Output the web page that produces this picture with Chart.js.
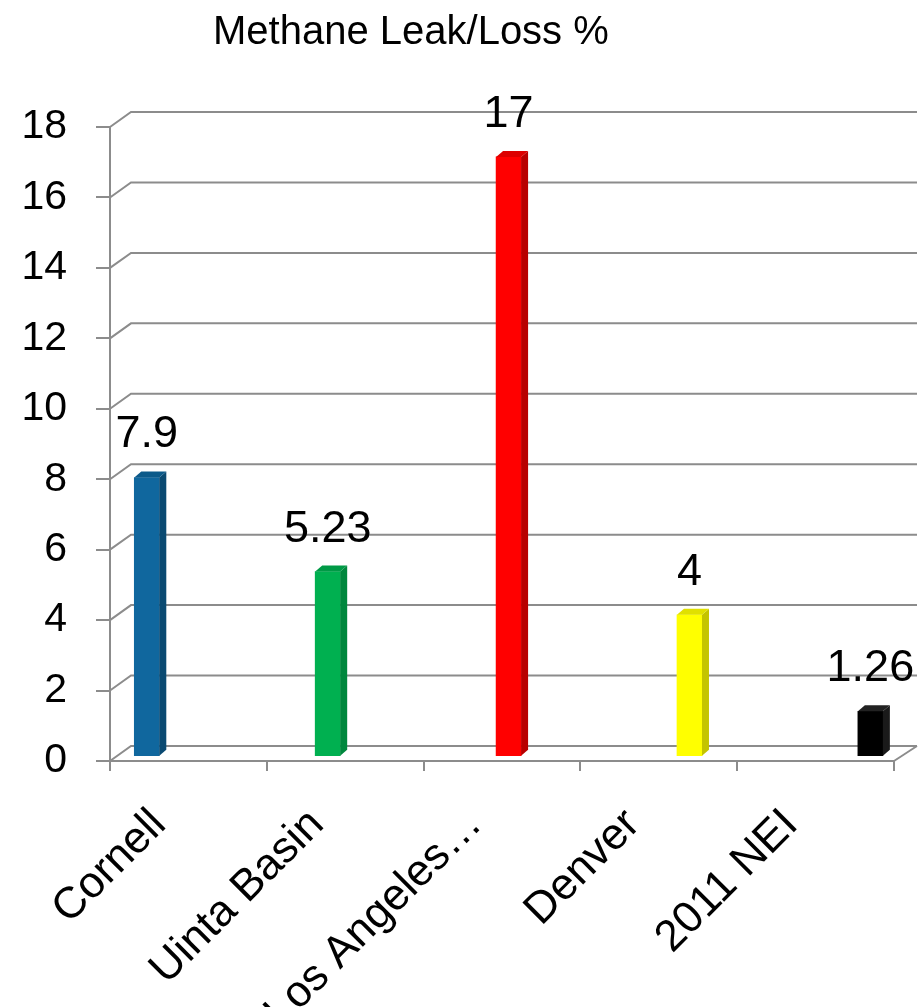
<!DOCTYPE html>
<html>
<head>
<meta charset="utf-8">
<title>Methane Leak/Loss %</title>
<script src="https://cdn.jsdelivr.net/npm/chart.js@4/dist/chart.umd.min.js"></script>
<style>
  body { margin: 0; background: #fff; }
  #wrap { position: relative; width: 921px; height: 1007px; }
  #title {
    position: absolute; left: 213px; top: 10px;
    font: 40px/40px "Liberation Sans", Arial, sans-serif; color: #000;
    white-space: nowrap;
  }
</style>
</head>
<body>
<div id="wrap">
  <div id="title">Methane Leak/Loss %</div>
  <canvas id="leakChart"></canvas>
</div>
<script>
// chart data
const categories = ['Cornell', 'Uinta Basin', 'Los Angeles…', 'Denver', '2011 NEI'];
const leakValues = [7.9, 5.23, 17, 4, 1.26];
const valueLabels = ['7.9', '5.23', '17', '4', '1.26'];
const yTicks = [0, 2, 4, 6, 8, 10, 12, 14, 16, 18];

// bar colours (front face / side face / top)
const frontColors = ['#10679e', '#00b050', '#ff0000', '#ffff00', '#000000'];
const sideColors = ['#0a4a72', '#00873d', '#b80000', '#c4c400', '#1a1a1a'];
const topColors = ['#0c5a8a', '#009a46', '#dd0000', '#e0e000', '#222222'];

const gridColor = '#8c8c8c';
const font = '"Liberation Sans", Arial, sans-serif';
const wall = { dx: 21, dy: 15 };   // back wall offset
const bar3d = { dx: 7, dy: 6 };    // bar depth

const ctx = document.getElementById('leakChart').getContext('2d');

// draws the 3D walls, bar sides and value labels
const chart3d = {
  id: 'chart3d',
  beforeDatasetsDraw(chart) {
    const c = chart.ctx;
    const area = chart.chartArea;
    const y = chart.scales.y;
    c.save();
    c.strokeStyle = gridColor;
    c.lineWidth = 2;
    yTicks.forEach(v => {
      const py = y.getPixelForValue(v);
      c.beginPath();
      c.moveTo(area.left, py);
      c.lineTo(area.left + wall.dx, py - wall.dy);
      c.lineTo(area.right + wall.dx + 2, py - wall.dy);
      c.stroke();
    });
    // right edge of the floor
    c.beginPath();
    c.moveTo(area.right, area.bottom);
    c.lineTo(area.right + wall.dx + 2, area.bottom - wall.dy);
    c.stroke();
    c.restore();
  },
  afterDatasetsDraw(chart) {
    const c = chart.ctx;
    const meta = chart.getDatasetMeta(0);
    c.save();
    meta.data.forEach((bar, i) => {
      const half = bar.width / 2;
      const l = bar.x - half, r = bar.x + half;
      // side face
      c.fillStyle = sideColors[i];
      c.beginPath();
      c.moveTo(r, bar.y);
      c.lineTo(r + bar3d.dx, bar.y - bar3d.dy);
      c.lineTo(r + bar3d.dx, bar.base - bar3d.dy);
      c.lineTo(r, bar.base);
      c.closePath();
      c.fill();
      // top face
      c.fillStyle = topColors[i];
      c.beginPath();
      c.moveTo(l, bar.y);
      c.lineTo(l + bar3d.dx, bar.y - bar3d.dy);
      c.lineTo(r + bar3d.dx, bar.y - bar3d.dy);
      c.lineTo(r, bar.y);
      c.closePath();
      c.fill();
      // value label
      c.fillStyle = '#000';
      c.font = '45px ' + font;
      c.textAlign = 'center';
      c.textBaseline = 'alphabetic';
      c.fillText(valueLabels[i], bar.x, bar.y - 30);
    });
    c.restore();
  }
};

new Chart(ctx, {
  type: 'bar',
  data: {
    labels: categories,
    datasets: [{
      label: 'Methane Leak/Loss %',
      data: leakValues.map((v, i) => ({ x: i, y: v })),
      backgroundColor: frontColors,
      borderWidth: 0,
      barThickness: 25,
      xAxisID: 'xb',
      yAxisID: 'yb'
    }]
  },
  options: {
    responsive: true,
    maintainAspectRatio: false,
    animation: false,
    layout: { padding: { top: 127, right: 27, left: 0, bottom: 0 } },
    plugins: {
      legend: { display: false },
      title: { display: false },
      tooltip: { enabled: false }
    },
    scales: {
      // front floor edge with the category tick marks
      x: {
        type: 'category',
        position: 'bottom',
        weight: 0,
        offset: true,
        grid: {
          offset: true,
          drawOnChartArea: false,
          tickLength: 10,
          color: gridColor,
          lineWidth: 2
        },
        border: { display: true, color: gridColor, width: 2 },
        ticks: { display: false },
        afterFit(s) { s.height = 10; }
      },
      // category names
      xl: {
        type: 'linear',
        position: 'bottom',
        weight: 1,
        offset: false,
        min: -0.3101,
        max: 4.652,
        afterBuildTicks(s) { s.ticks = categories.map((c, i) => ({ value: i })); },
        grid: { display: false, drawTicks: false },
        border: { display: false },
        ticks: {
          autoSkip: false,
          minRotation: 45,
          maxRotation: 45,
          padding: 28,
          color: '#000',
          font: { family: font, size: 44 },
          callback: v => categories[v]
        },
        afterFit(s) { s.height = 236; }
      },
      xb: {
        type: 'linear',
        display: false,
        offset: false,
        min: -0.2034,
        max: 4.1306
      },
      y: {
        position: 'left',
        min: 0,
        max: 18,
        afterBuildTicks(s) { s.ticks = yTicks.map(v => ({ value: v })); },
        grid: {
          drawOnChartArea: false,
          tickLength: 14,
          color: gridColor,
          lineWidth: 2
        },
        border: { display: true, color: gridColor, width: 2 },
        ticks: {
          padding: 29,
          color: '#000',
          font: { family: font, size: 41 }
        },
        afterFit(s) { s.width = 110; }
      },
      yb: {
        display: false,
        min: -0.15,
        max: 17.85
      }
    }
  },
  plugins: [chart3d]
});
</script>
</body>
</html>
